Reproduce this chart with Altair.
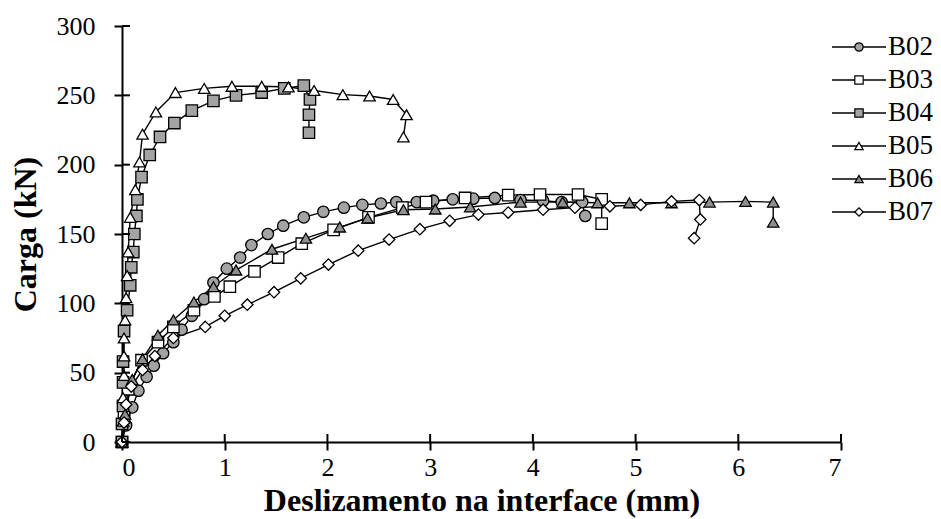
import altair as alt
import pandas as pd

# Load-slip curves of the push-out specimens
SERIES = ["B02", "B03", "B04", "B05", "B06", "B07"]

B02_x = [0, 0.04, 0.10, 0.16, 0.24, 0.31, 0.40, 0.50, 0.58, 0.68, 0.80, 0.89, 1.02, 1.15, 1.26,
         1.42, 1.57, 1.77, 1.96, 2.16, 2.34, 2.52, 2.67, 2.87, 3.03, 3.22, 3.42, 3.63, 3.88, 4.10,
         4.28, 4.48, 4.51]
B02_y = [0, 12, 25, 37, 47, 55, 64, 72, 81, 91, 103, 115, 125, 133, 142,
         150, 156, 162, 166, 169, 171, 172, 173, 173, 174, 175, 175.5, 176, 174.5, 174,
         173, 173, 163]

B03_x = [0, 0.02, 0.06, 0.19, 0.35, 0.50, 0.70, 0.90, 1.05, 1.29, 1.52, 1.75, 2.06, 2.40, 2.73,
         2.96, 3.34, 3.76, 4.07, 4.44, 4.67, 4.67]
B03_y = [0, 18, 38, 59, 72, 83, 95, 105, 112, 123, 133, 143, 153, 162, 169,
         173, 176, 178, 178.5, 178.5, 175, 157.5]

B04_x = [0, 0.0, 0.01, 0.01, 0.01, 0.02, 0.05, 0.08, 0.09, 0.11, 0.12, 0.14, 0.15, 0.19, 0.27,
         0.37, 0.51, 0.68, 0.89, 1.11, 1.36, 1.58, 1.77, 1.83, 1.82, 1.82]
B04_y = [0, 13, 26, 43, 58, 80, 95, 113, 126, 137, 150, 163, 175, 191, 207,
         220, 230, 239, 246, 250, 252, 255, 257, 247, 236, 223]

B05_x = [0, 0.01, 0.01, 0.02, 0.02, 0.02, 0.03, 0.04, 0.05, 0.06, 0.08, 0.13, 0.17, 0.20, 0.33,
         0.52, 0.80, 1.07, 1.36, 1.62, 1.87, 2.15, 2.41, 2.64, 2.77, 2.74]
B05_y = [0, 15, 32, 48, 62, 75, 88, 104, 120, 137, 162, 182, 202, 222, 238,
         252, 255, 256.5, 256.5, 256, 253.5, 250.5, 249.5, 247, 236, 220]

B06_x = [0, 0.03, 0.10, 0.20, 0.35, 0.50, 0.70, 0.89, 1.11, 1.46, 1.79, 2.12, 2.39, 2.74, 3.05,
         3.39, 3.88, 4.29, 4.63, 4.94, 5.35, 5.72, 6.07, 6.34, 6.34]
B06_y = [0, 20, 45, 60, 77, 88, 101, 112, 124, 139, 147, 155, 161.5, 167.5, 168,
         169.5, 173, 173, 172.5, 172.5, 172.5, 173, 173.5, 173, 158.5]

B07_x = [0, 0.02, 0.04, 0.09, 0.20, 0.32, 0.50, 0.81, 1.00, 1.22, 1.48, 1.74, 2.01, 2.30, 2.60,
         2.90, 3.19, 3.47, 3.76, 4.10, 4.41, 4.75, 5.05, 5.35, 5.62, 5.63, 5.57]
B07_y = [0, 14, 27, 40, 52, 62, 75, 83, 91, 99, 108, 118, 128, 138, 146,
         153.5, 159.5, 164, 165.5, 167.5, 169, 170, 171, 173.5, 174.5, 160.5, 147]

X_TICKS = [0, 1, 2, 3, 4, 5, 6, 7]
Y_TICKS = [0, 50, 100, 150, 200, 250, 300]

SHAPES = ["circle", "square", "square", "triangle-up", "triangle-up", "diamond"]
FILLS = ["#a3a3a3", "#ffffff", "#a3a3a3", "#ffffff", "#8f8f8f", "#ffffff"]

FONT = "Liberation Serif"
W, H = 719, 416

rows = []
for name, xs, ys in zip(SERIES, [B02_x, B03_x, B04_x, B05_x, B06_x, B07_x],
                        [B02_y, B03_y, B04_y, B05_y, B06_y, B07_y]):
    for i, (a, b) in enumerate(zip(xs, ys)):
        rows.append({"serie": name, "desl": a, "carga": b, "ordem": i})
df = pd.DataFrame(rows)

x_scale = alt.Scale(domain=[0, 7], nice=False, zero=False)
y_scale = alt.Scale(domain=[0, 300], nice=False, zero=False)
shape_scale = alt.Scale(domain=SERIES, range=SHAPES)
fill_scale = alt.Scale(domain=SERIES, range=FILLS)

x_axis = alt.Axis(values=X_TICKS, format="d", title="Deslizamento na interface (mm)",
                  titleX=W / 2, titleY=58, titleBaseline="middle", titleAlign="center",
                  labelPadding=4)
y_axis = alt.Axis(values=Y_TICKS, format="d", title="Carga (kN)",
                  titleX=-97, titleY=H / 2, titleAngle=-90, titleBaseline="middle",
                  titleAlign="center", labelPadding=19)

lines = alt.Chart(df).mark_line(color="black", strokeWidth=1.4).encode(
    x=alt.X("desl:Q", scale=x_scale, axis=x_axis),
    y=alt.Y("carga:Q", scale=y_scale, axis=y_axis),
    detail="serie:N",
    order="ordem:Q",
)

points = alt.Chart(df).mark_point(filled=True, stroke="black", strokeWidth=1.3,
                                  size=130, opacity=1).encode(
    x=alt.X("desl:Q", scale=x_scale),
    y=alt.Y("carga:Q", scale=y_scale),
    shape=alt.Shape("serie:N", scale=shape_scale, legend=None),
    fill=alt.Fill("serie:N", scale=fill_scale, legend=None),
)

# inner half of the crossing tick marks
xt = pd.DataFrame({"desl": X_TICKS})
yt = pd.DataFrame({"carga": Y_TICKS})
x_inner = alt.Chart(xt).mark_rule(color="black", strokeWidth=2).encode(
    x=alt.X("desl:Q", scale=x_scale), y=alt.value(H - 8), y2=alt.value(H))
y_inner = alt.Chart(yt).mark_rule(color="black", strokeWidth=2).encode(
    y=alt.Y("carga:Q", scale=y_scale), x=alt.value(0), x2=alt.value(8))

main = alt.layer(lines, points, x_inner, y_inner)

# legend drawn as line + marker + label
leg = pd.DataFrame({"serie": SERIES})
ly = alt.Y("serie:N", scale=alt.Scale(type="point", domain=SERIES, range=[21, 186], padding=0),
           axis=None)
leg_line = alt.Chart(leg).mark_rule(color="black", strokeWidth=1.4).encode(
    y=ly, x=alt.value(710), x2=alt.value(764))
leg_pt = alt.Chart(leg).mark_point(filled=True, stroke="black", strokeWidth=1.2,
                                   size=70, opacity=1).encode(
    y=ly, x=alt.value(737),
    shape=alt.Shape("serie:N", scale=shape_scale, legend=None),
    fill=alt.Fill("serie:N", scale=fill_scale, legend=None),
)
leg_txt = alt.Chart(leg).mark_text(align="left", baseline="middle", font=FONT,
                                   fontSize=27, color="black").encode(
    y=ly, x=alt.value(766), text="serie:N")
legend = alt.layer(leg_line, leg_pt, leg_txt)

chart = alt.layer(main, legend).resolve_scale(x="independent", y="independent").properties(
    width=W, height=H,
    autosize=alt.AutoSizeParams(type="none"),
    padding={"left": 122, "top": 26, "right": 941 - 122 - W, "bottom": 519 - 26 - H},
    background="white",
).configure_view(stroke=None).configure_axis(
    grid=False,
    domainColor="black", domainWidth=2,
    tickColor="black", tickWidth=2, tickSize=8,
    labelFont=FONT, labelFontSize=26, labelColor="black",
    titleFont=FONT, titleFontSize=32, titleFontWeight="bold", titleColor="black",
)

chart.save("out.html", embed_options={"renderer": "svg", "actions": False})
